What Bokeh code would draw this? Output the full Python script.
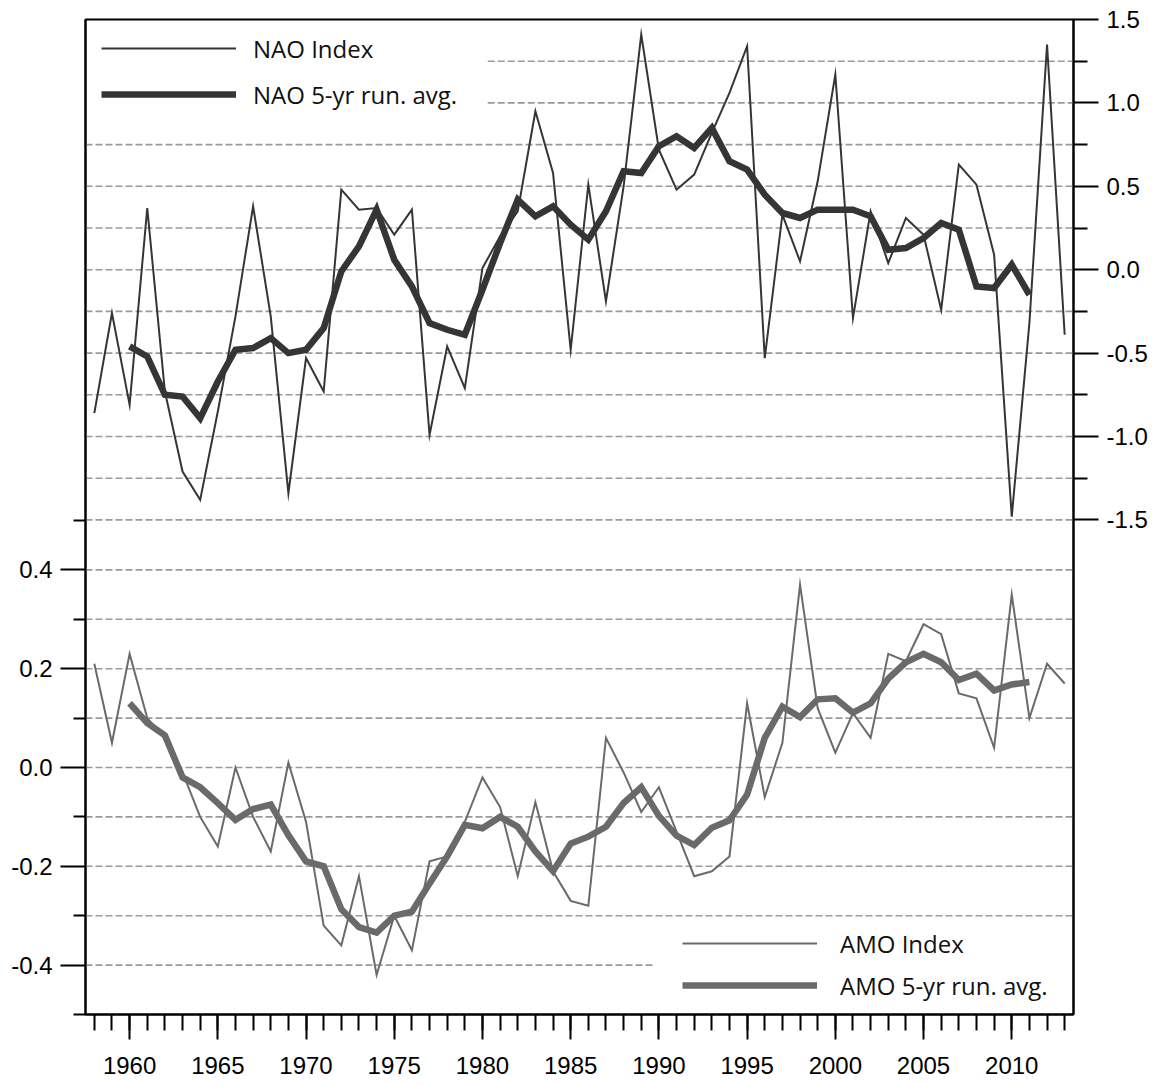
from bokeh.plotting import figure
from bokeh.models import (Range1d, LinearAxis, FixedTicker, PrintfTickFormatter,
                          Legend, LegendItem)
from bokeh.core.properties import value
from bokeh.embed import file_html
from bokeh.resources import INLINE

# ---------------- data ----------------
years = list(range(1958, 2014))
avg_years = list(range(1960, 2012))

nao_index = [-0.86, -0.26, -0.81, 0.37, -0.73, -1.21, -1.38, -0.85, -0.28, 0.38,
             -0.28, -1.34, -0.53, -0.73, 0.48, 0.36, 0.37, 0.21, 0.36, -0.99,
             -0.46, -0.71, 0.01, 0.20, 0.35, 0.95, 0.58, -0.48, 0.51, -0.19,
             0.50, 1.41, 0.72, 0.48, 0.57, 0.82, 1.06, 1.34, -0.53, 0.33,
             0.05, 0.53, 1.17, -0.29, 0.35, 0.04, 0.31, 0.21, -0.24, 0.63,
             0.51, 0.09, -1.48, -0.32, 1.35, -0.39]

nao_avg = [-0.46, -0.52, -0.75, -0.76, -0.89, -0.67, -0.48, -0.47, -0.41, -0.50,
           -0.48, -0.35, -0.01, 0.14, 0.36, 0.06, -0.10, -0.32, -0.36, -0.39,
           -0.12, 0.16, 0.42, 0.32, 0.38, 0.27, 0.18, 0.35, 0.59, 0.58,
           0.74, 0.80, 0.73, 0.85, 0.65, 0.60, 0.45, 0.34, 0.31, 0.36,
           0.36, 0.36, 0.32, 0.12, 0.13, 0.19, 0.28, 0.24, -0.10, -0.11,
           0.03, -0.15]

amo_index = [0.21, 0.05, 0.23, 0.10, 0.06, -0.01, -0.10, -0.16, 0.00, -0.10,
             -0.17, 0.01, -0.11, -0.32, -0.36, -0.22, -0.42, -0.30, -0.37, -0.19,
             -0.18, -0.11, -0.02, -0.08, -0.22, -0.07, -0.21, -0.27, -0.28, 0.06,
             -0.01, -0.09, -0.04, -0.13, -0.22, -0.21, -0.18, 0.13, -0.06, 0.05,
             0.37, 0.12, 0.03, 0.11, 0.06, 0.23, 0.215, 0.29, 0.27, 0.15,
             0.14, 0.04, 0.35, 0.10, 0.21, 0.17]

amo_avg = [0.13, 0.09, 0.065, -0.02, -0.04, -0.072, -0.106, -0.084, -0.075, -0.137,
           -0.19, -0.20, -0.287, -0.323, -0.334, -0.30, -0.292, -0.235, -0.18, -0.116,
           -0.123, -0.10, -0.12, -0.17, -0.21, -0.154, -0.14, -0.12, -0.072, -0.04,
           -0.098, -0.138, -0.157, -0.122, -0.107, -0.055, 0.06, 0.123, 0.102, 0.138,
           0.14, 0.111, 0.13, 0.18, 0.213, 0.23, 0.213, 0.177, 0.19, 0.156,
           0.168, 0.173]

year_labels = [1960, 1965, 1970, 1975, 1980, 1985, 1990, 1995, 2000, 2005, 2010]
nao_ticks = [-1.5, -1.0, -0.5, 0.0, 0.5, 1.0, 1.5]
nao_minor = [-1.25, -0.75, -0.25, 0.25, 0.75, 1.25]
amo_ticks = [-0.4, -0.2, 0.0, 0.2, 0.4]
amo_minor = [-0.5, -0.3, -0.1, 0.1, 0.3, 0.5]

nao_grid_full = [0.75, 0.5, 0.25, 0.0, -0.25, -0.5, -0.75, -1.0, -1.25, -1.5]
nao_grid_short = [1.25, 1.0]
amo_grid_full = [0.4, 0.3, 0.2, 0.1, 0.0, -0.1, -0.2, -0.3]
amo_grid_short = [-0.4]

# ---------------- layout / style ----------------
X0, X1 = 1957.5, 2013.5
AMO_LO, AMO_HI = -0.5, 1.5142
NAO_LO, NAO_HI = -4.465, 1.5

NAO_COL = "#353535"
AMO_COL = "#6a6a6a"
GRID_COL = "#9a9a9a"
TICK_FONT = "Liberation Sans"
LEG_FONT = "Open Sans"

p = figure(frame_width=988, frame_height=995,
           x_range=Range1d(X0, X1), y_range=Range1d(AMO_LO, AMO_HI),
           x_axis_type=None, y_axis_type=None,
           output_backend="svg", toolbar_location=None,
           min_border_left=85, min_border_right=80,
           min_border_top=19, min_border_bottom=66,
           background_fill_color="white", border_fill_color="white")
p.extra_y_ranges = {"nao": Range1d(NAO_LO, NAO_HI)}
p.outline_line_color = "black"
p.outline_line_width = 2
p.outline_line_alpha = 1.0

def style_axis(ax, minor_out):
    ax.axis_line_color = "black"
    ax.axis_line_width = 2
    ax.major_tick_line_color = "black"
    ax.major_tick_line_width = 2
    ax.minor_tick_line_color = "black"
    ax.minor_tick_line_width = 2
    ax.major_tick_out = 25
    ax.major_tick_in = 0
    ax.minor_tick_out = minor_out
    ax.minor_tick_in = 0
    ax.major_label_text_font = TICK_FONT
    ax.major_label_text_font_size = "24px"
    ax.major_label_text_color = "black"

xaxis = LinearAxis(ticker=FixedTicker(ticks=year_labels, minor_ticks=years),
                   formatter=PrintfTickFormatter(format="%d"))
style_axis(xaxis, 16)
xaxis.major_label_standoff = 17
p.add_layout(xaxis, "below")

yaxis_amo = LinearAxis(ticker=FixedTicker(ticks=amo_ticks, minor_ticks=amo_minor),
                       formatter=PrintfTickFormatter(format="%.1f"))
style_axis(yaxis_amo, 12)
yaxis_amo.major_label_standoff = 8
p.add_layout(yaxis_amo, "left")

yaxis_nao = LinearAxis(y_range_name="nao",
                       ticker=FixedTicker(ticks=nao_ticks, minor_ticks=nao_minor),
                       formatter=PrintfTickFormatter(format="%.1f"))
style_axis(yaxis_nao, 14)
yaxis_nao.major_label_standoff = 8
p.add_layout(yaxis_nao, "right")

# ---------------- dashed grid lines ----------------
grid_kw = dict(line_color=GRID_COL, line_width=1.6, line_dash=value("7 3"))
p.segment(x0=[X0] * len(nao_grid_full), x1=[X1] * len(nao_grid_full),
          y0=nao_grid_full, y1=nao_grid_full, y_range_name="nao", **grid_kw)
p.segment(x0=[1980.3] * len(nao_grid_short), x1=[X1] * len(nao_grid_short),
          y0=nao_grid_short, y1=nao_grid_short, y_range_name="nao", **grid_kw)
p.segment(x0=[X0] * len(amo_grid_full), x1=[X1] * len(amo_grid_full),
          y0=amo_grid_full, y1=amo_grid_full, **grid_kw)
p.segment(x0=[X0] * len(amo_grid_short), x1=[1989.7] * len(amo_grid_short),
          y0=amo_grid_short, y1=amo_grid_short, **grid_kw)

# ---------------- series ----------------
r_amo = p.line(years, amo_index, line_color=AMO_COL, line_width=2, line_join="miter")
r_amo_avg = p.line(avg_years, amo_avg, line_color=AMO_COL, line_width=6.5, line_join="miter")
r_nao = p.line(years, nao_index, line_color=NAO_COL, line_width=2, line_join="miter",
               y_range_name="nao")
r_nao_avg = p.line(avg_years, nao_avg, line_color=NAO_COL, line_width=6.5, line_join="miter",
                   y_range_name="nao")

# ---------------- legends ----------------
def make_legend(items, loc, spacing, standoff):
    lg = Legend(items=items, location=loc, orientation="vertical",
                glyph_width=135, glyph_height=34, label_height=34,
                label_standoff=standoff, spacing=spacing, padding=0, margin=0,
                border_line_color=None, background_fill_alpha=0,
                label_text_font=LEG_FONT, label_text_font_size="24px",
                label_text_color="#111111", label_text_baseline="middle")
    return lg

leg_nao = make_legend([LegendItem(label="NAO Index", renderers=[r_nao]),
                       LegendItem(label="NAO 5-yr run. avg.", renderers=[r_nao_avg])],
                      (16, 903), 12, 17)
leg_amo = make_legend([LegendItem(label="AMO Index", renderers=[r_amo]),
                       LegendItem(label="AMO 5-yr run. avg.", renderers=[r_amo_avg])],
                      (597, 12), 8, 23)
p.add_layout(leg_nao)
p.add_layout(leg_amo)

open("out.html", "w").write(file_html(p, INLINE))
